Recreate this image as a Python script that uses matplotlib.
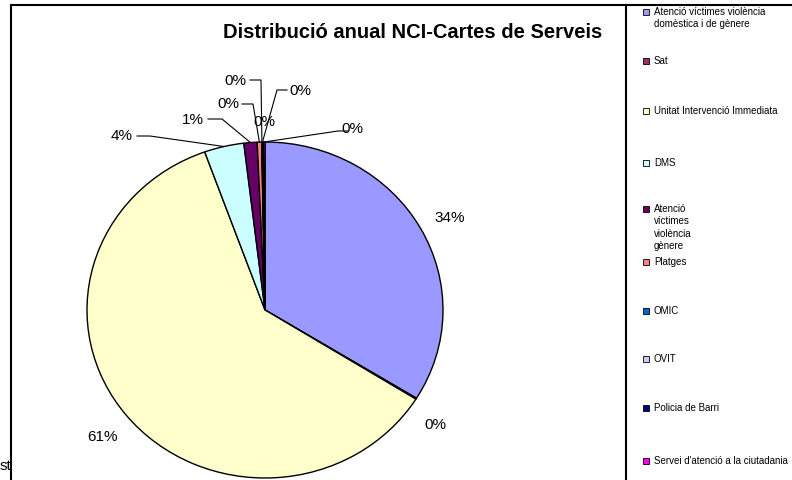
import numpy as np
import matplotlib
matplotlib.use('Agg')
import matplotlib.pyplot as plt
from matplotlib.patches import Rectangle

plt.rcParams['font.family'] = ['Liberation Sans', 'DejaVu Sans']

""" Data """

categories = ['Atenció víctimes violència\ndomèstica i de gènere', 'Sat',
              'Unitat Intervenció Immediata', 'DMS',
              'Atenció\nvíctimes\nviolència\ngènere', 'Platges', 'OMIC', 'OVIT',
              'Policia de Barri', "Servei d'atenció a la ciutadania"]
shares = [33.8, 0.1, 60.6, 3.6, 1.2, 0.4, 0.05, 0.05, 0.05, 0.15]
colors = ['#9999FF', '#993366', '#FFFFCC', '#CCFFFF', '#660066',
          '#FF8080', '#0066CC', '#CCCCFF', '#000080', '#FF00FF']
title = 'Distribució anual NCI-Cartes de Serveis'

""" Layout (pixels, y from top) """

W, H = 792, 480
pie_box = (87, 142, 443, 478)  # left, top, right, bottom
# label positions and leader lines (None = no leader)
label_pos = [(450, 218), (435, 425), (103, 437), (122, 136), (193, 120),
             (228, 104), (235, 81), (300, 91), (264, 122), (352, 129)]
leader_knee = [None, None, None, ((137, 136), (150, 136)), ((208, 119), (222, 119)),
               ((242, 104), (253, 104)), ((250, 80), (261, 80)),
               ((287, 90), (277, 90)), None, ((348, 131), (338, 131))]
legend_y = [12, 61, 111, 163, 209, 262, 311, 359, 408, 461]

""" Plot """

fig = plt.figure(figsize=(W / 100, H / 100), dpi=100)
l, t, r, b = pie_box
pax = fig.add_axes([l / W, (H - b) / H, (r - l) / W, (b - t) / H])
wedges, _ = pax.pie(shares, colors=colors, startangle=90, counterclock=False,
                    wedgeprops=dict(edgecolor='black', linewidth=1.0))
for w in wedges:
    w.set_clip_on(False)
pax.set_aspect('auto')
pax.set_xlim(-1, 1)
pax.set_ylim(-1, 1)
pax.set_axis_off()

ov = fig.add_axes([0, 0, 1, 1], zorder=5)
ov.set_xlim(0, W)
ov.set_ylim(H, 0)
ov.set_axis_off()

total = sum(shares)
for i, w in enumerate(wedges):
    pct = '%d%%' % round(shares[i] / total * 100)
    x, y = label_pos[i]
    ov.text(x, y, pct, fontsize=11, ha='center', va='center')
    if leader_knee[i] is not None:
        mid = np.deg2rad((w.theta1 + w.theta2) / 2)
        px, py = pax.transData.transform((np.cos(mid), np.sin(mid)))
        ax_, ay_ = px, H - py
        (x0, y0), (x1, y1) = leader_knee[i]
        ov.plot([x0, x1, ax_], [y0, y1, ay_], color='black', lw=0.8)

ov.text(413, 32, title, fontsize=14.5, fontweight='bold', ha='center', va='center')
ov.text(11, 466, 'st', fontsize=11, ha='right', va='center')

# frame
ov.plot([11, 11], [5, H], color='black', lw=1.5)
ov.plot([11, W], [5, 5], color='black', lw=1.5)
ov.plot([626, 626], [5, H], color='black', lw=1.5)

# legend
for i, lab in enumerate(categories):
    y = legend_y[i]
    ov.add_patch(Rectangle((643, y - 3), 6, 6, facecolor=colors[i],
                           edgecolor='black', lw=0.6))
    ov.text(654, y - 5, lab, fontsize=7, ha='left', va='top', linespacing=1.3)

fig.savefig('out.png', dpi=100)
